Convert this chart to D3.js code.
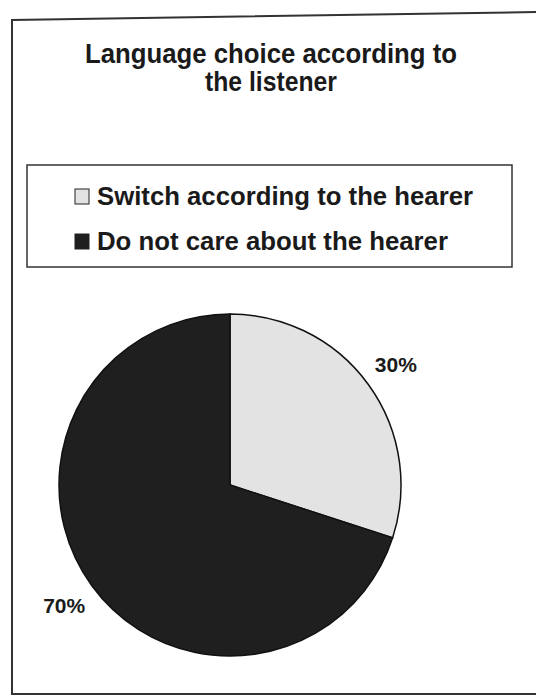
<!DOCTYPE html>
<html>
<head>
<meta charset="utf-8">
<script src="https://cdn.jsdelivr.net/npm/d3@7"></script>
<style>
  html, body { margin: 0; padding: 0; background: #fff; }
  svg { display: block; }
  text { font-family: "Liberation Sans", Arial, sans-serif; font-weight: bold; fill: #1a1a1a; }
</style>
</head>
<body>
<script>
// ---- data ----
const titleLines = ["Language choice according to", "the listener"];
const categories = ["Switch according to the hearer", "Do not care about the hearer"];
const values = [30, 70];
const valueLabels = ["30%", "70%"];
const colors = ["#e3e3e3", "#1f1f1f"];

// ---- layout ----
const W = 536, H = 696;
const svg = d3.select("body").append("svg").attr("width", W).attr("height", H);

// frame
svg.append("path")
  .attr("d", "M536,12 L12,20 L12,694 L536,694")
  .attr("fill", "none").attr("stroke", "#333").attr("stroke-width", 2);

// title
const titleSpec = [
  { y: 63, len: 372 },
  { y: 91, len: 132 }
];
titleLines.forEach((t, i) => {
  svg.append("text")
    .attr("x", 271).attr("y", titleSpec[i].y)
    .attr("text-anchor", "middle")
    .attr("font-size", 27.5)
    .attr("textLength", titleSpec[i].len)
    .attr("lengthAdjust", "spacingAndGlyphs")
    .text(t);
});

// legend
svg.append("rect")
  .attr("x", 27).attr("y", 165).attr("width", 485).attr("height", 102)
  .attr("fill", "#fff").attr("stroke", "#333").attr("stroke-width", 1.5);

const legendY = d3.scalePoint().domain(categories).range([205, 250]);
const legendLen = [376, 351];
const lg = svg.selectAll("g.legend").data(categories).join("g")
  .attr("class", "legend")
  .attr("transform", d => `translate(0,${legendY(d)})`);
lg.append("rect")
  .attr("x", 75).attr("y", -16).attr("width", 14).attr("height", 15)
  .attr("fill", (d, i) => colors[i]).attr("stroke", "#222").attr("stroke-width", 1);
lg.append("text")
  .attr("x", 97).attr("y", 0)
  .attr("font-size", 25.5)
  .attr("textLength", (d, i) => legendLen[i])
  .attr("lengthAdjust", "spacingAndGlyphs")
  .text(d => d);

// pie
const cx = 230, cy = 485, r = 171;
const pie = d3.pie().sort(null).value(d => d);
const arcs = pie(values);
const arc = d3.arc().innerRadius(0).outerRadius(r);
const labelArc = d3.arc().innerRadius(205).outerRadius(205);

const g = svg.append("g").attr("transform", `translate(${cx},${cy})`);
g.selectAll("path.slice").data(arcs).join("path")
  .attr("class", "slice")
  .attr("d", arc)
  .attr("fill", (d, i) => colors[i])
  .attr("stroke", "#111").attr("stroke-width", 1.5);

g.selectAll("text.lbl").data(arcs).join("text")
  .attr("class", "lbl")
  .attr("transform", d => `translate(${labelArc.centroid(d)})`)
  .attr("text-anchor", "middle")
  .attr("dy", "0.35em")
  .attr("font-size", 21)
  .text((d, i) => valueLabels[i]);
</script>
</body>
</html>
